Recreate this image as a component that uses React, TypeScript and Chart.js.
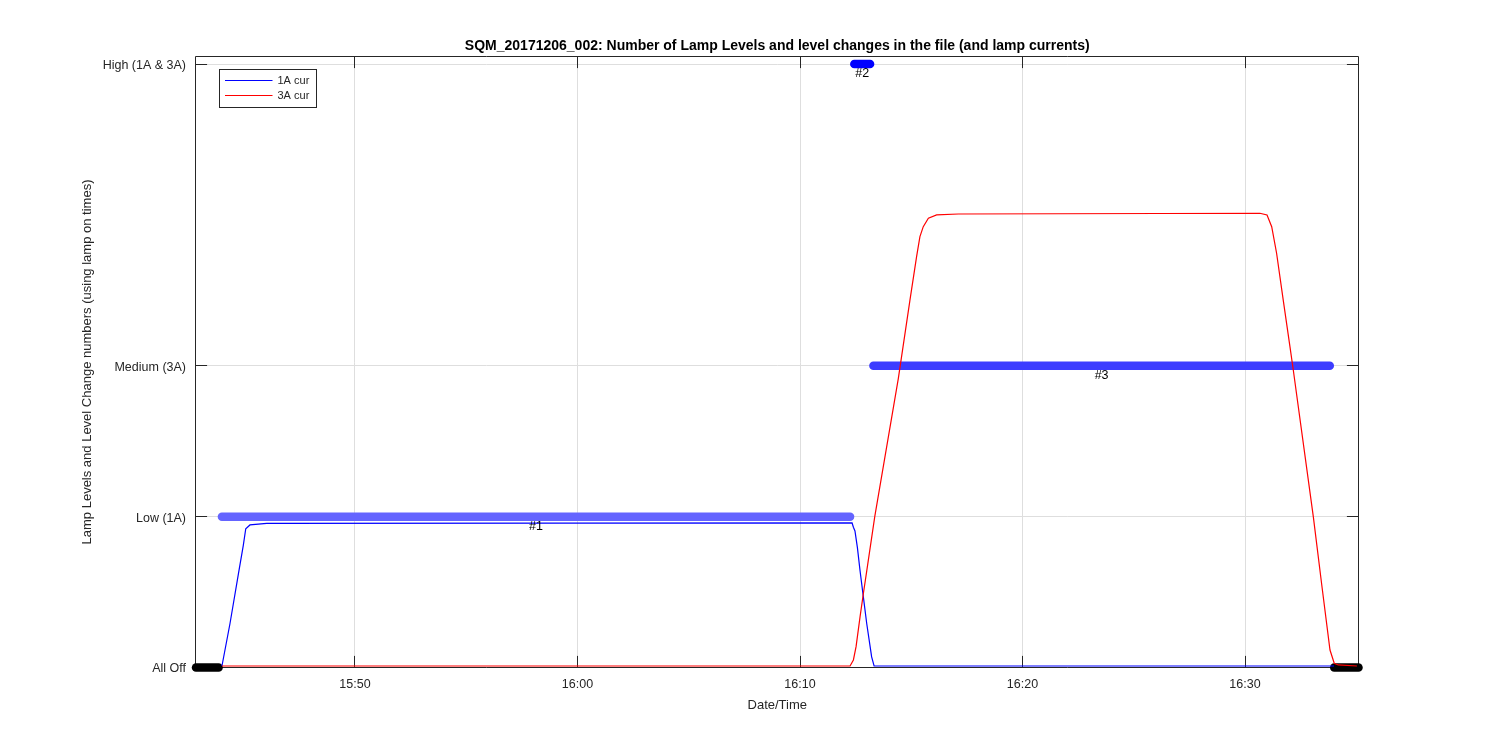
import React, { useEffect, useRef } from 'react';
import { Chart, registerables } from 'chart.js';

Chart.register(...registerables);

const chartTitle = 'SQM_20171206_002: Number of Lamp Levels and level changes in the file (and lamp currents)';
const xAxisTitle = 'Date/Time';
const yAxisTitle = 'Lamp Levels and Level Change numbers (using lamp on times)';

// time axis: minutes after 15:00
const timeMin = 42.854;
const timeMax = 95.101;
const timeTickValues = [50, 60, 70, 80, 90];
const timeTickLabels = ['15:50', '16:00', '16:10', '16:20', '16:30'];

const levelMin = 0;
const levelMax = 4.05;
const levelTickValues = [0, 1, 2, 4];
const levelTickLabels = ['All Off', 'Low (1A)', 'Medium (3A)', 'High (1A & 3A)'];

// lamp level runs (markers)
const segmentStart = [42.854, 44.02, 72.44, 73.3, 94.01];
const segmentEnd = [43.87, 72.25, 73.15, 93.81, 95.101];
const segmentLevel = [0, 1, 4, 2, 0];
const segmentLabel = ['', '#1', '#2', '#3', ''];

// lamp currents
const legendLabels = ['1A cur', '3A cur'];
const cur1ATimes = [44.02, 44.38, 44.76, 44.98, 45.09, 45.28, 46.03, 72.34, 72.4, 72.47, 72.58, 72.7, 72.85, 73.0, 73.22, 73.33, 94.0];
const cur1AValues = [0.01, 0.29, 0.62, 0.81, 0.92, 0.945, 0.955, 0.958, 0.93, 0.905, 0.795, 0.64, 0.465, 0.29, 0.07, 0.01, 0.01];
const cur3ATimes = [44.02, 72.25, 72.4, 72.52, 72.7, 72.85, 73.0, 73.36, 74.42, 74.94, 75.24, 75.39, 75.54, 75.77, 76.14, 77.12, 90.67, 90.99, 91.2, 91.42, 91.72, 92.02, 92.17, 93.07, 93.45, 93.82, 94.01, 94.19, 95.03];
const cur3AValues = [0.01, 0.01, 0.05, 0.138, 0.337, 0.492, 0.64, 1.0, 1.917, 2.434, 2.723, 2.856, 2.922, 2.978, 3.0, 3.006, 3.011, 3.0, 2.922, 2.746, 2.434, 2.127, 1.972, 1.0, 0.547, 0.116, 0.028, 0.017, 0.01];

const FONT = '"Liberation Sans", Arial, Helvetica, sans-serif';
const AXIS_COLOR = '#262626';
const segmentColors = ['#000000', '#6464ff', '#0000ff', '#3c3cff', '#000000'];
const curveColors = ['#0000ff', '#ff0000'];

const alignPx = (p: number) => Math.round(p + 0.5) - 0.5;

const overlayPlugin = {
  id: 'matlabOverlay',
  beforeDatasetsDraw(chart: any) {
    const { ctx, chartArea, scales } = chart;
    const L = Math.floor(chartArea.left) - 0.5;
    const R = chartArea.right;
    const T = chartArea.top;
    const B = chartArea.bottom;
    const tl = 11.6;
    ctx.save();
    ctx.strokeStyle = AXIS_COLOR;
    ctx.lineWidth = 1;
    ctx.beginPath();
    ctx.rect(L, T, R - L, B - T);
    levelTickValues.forEach((v) => {
      const y = alignPx(scales.y.getPixelForValue(v));
      ctx.moveTo(L, y);
      ctx.lineTo(L + tl, y);
      ctx.moveTo(R, y);
      ctx.lineTo(R - tl, y);
    });
    timeTickValues.forEach((v) => {
      const x = alignPx(scales.x.getPixelForValue(v));
      ctx.moveTo(x, B);
      ctx.lineTo(x, B - tl);
      ctx.moveTo(x, T);
      ctx.lineTo(x, T + tl);
    });
    ctx.stroke();
    ctx.restore();
  },
  afterDatasetsDraw(chart: any) {
    const { ctx, chartArea, scales } = chart;
    ctx.save();
    // level change labels
    ctx.fillStyle = '#000000';
    ctx.font = `12.5px ${FONT}`;
    ctx.textAlign = 'center';
    ctx.textBaseline = 'middle';
    segmentLabel.forEach((lab, i) => {
      if (!lab) return;
      const x = scales.x.getPixelForValue((segmentStart[i] + segmentEnd[i]) / 2);
      const y = scales.y.getPixelForValue(segmentLevel[i]) + 10;
      ctx.fillText(lab, x, y);
    });

    // legend
    const bx = Math.floor(chartArea.left) + 23.5;
    const by = Math.floor(chartArea.top) + 13.5;
    ctx.fillStyle = '#ffffff';
    ctx.fillRect(bx, by, 97, 38);
    ctx.strokeStyle = AXIS_COLOR;
    ctx.lineWidth = 1;
    ctx.strokeRect(bx, by, 97, 38);
    ctx.font = `11px ${FONT}`;
    ctx.textAlign = 'left';
    ctx.textBaseline = 'middle';
    legendLabels.forEach((lab, i) => {
      const y = by + 11 + i * 15;
      ctx.strokeStyle = curveColors[i];
      ctx.beginPath();
      ctx.moveTo(bx + 5.5, y);
      ctx.lineTo(bx + 53, y);
      ctx.stroke();
      ctx.fillStyle = AXIS_COLOR;
      ctx.fillText(lab, bx + 58, y + 0.5);
    });

    // title
    ctx.fillStyle = '#000000';
    ctx.font = `bold 14px ${FONT}`;
    ctx.textAlign = 'center';
    ctx.textBaseline = 'alphabetic';
    ctx.fillText(chartTitle, (chartArea.left + chartArea.right) / 2, 50);
    ctx.restore();
  },
};

export default function App() {
  const canvasRef = useRef<HTMLCanvasElement | null>(null);

  useEffect(() => {
    if (!canvasRef.current) return;
    Chart.defaults.font.family = FONT;
    Chart.defaults.color = AXIS_COLOR;

    const curveData = [
      { times: cur1ATimes, values: cur1AValues },
      { times: cur3ATimes, values: cur3AValues },
    ];

    const curveDatasets = curveData.map((c, i) => ({
      label: legendLabels[i],
      data: c.times.map((t, j) => ({ x: t, y: c.values[j] })),
      borderColor: curveColors[i],
      backgroundColor: curveColors[i],
      borderWidth: 1.2,
      pointRadius: 0,
      tension: 0,
      fill: false,
      clip: false,
      order: i === 1 ? 0 : 1,
    }));

    const segmentDatasets = segmentStart.map((s, i) => ({
      label: 'level ' + i,
      data: [
        { x: s, y: segmentLevel[i] },
        { x: segmentEnd[i], y: segmentLevel[i] },
      ],
      borderColor: segmentColors[i],
      backgroundColor: segmentColors[i],
      borderWidth: 8.5,
      borderCapStyle: 'round',
      pointRadius: 0,
      fill: false,
      clip: false,
      order: 2,
    }));

    const chart = new Chart(canvasRef.current, {
      type: 'line',
      data: { datasets: [...curveDatasets, ...segmentDatasets] as any },
      options: {
        responsive: false,
        animation: false,
        devicePixelRatio: 1,
        layout: { padding: { left: 0, right: 141.5, top: 56.5, bottom: 0 } },
        plugins: {
          legend: { display: false },
          tooltip: { enabled: false },
          title: { display: false },
        },
        scales: {
          x: {
            type: 'linear',
            min: timeMin,
            max: timeMax,
            afterBuildTicks: (scale: any) => {
              scale.ticks = timeTickValues.map((v) => ({ value: v }));
            },
            afterFit: (scale: any) => {
              scale.height = 82.5;
            },
            ticks: {
              autoSkip: false,
              maxRotation: 0,
              padding: 10,
              font: { size: 12.5 },
              color: AXIS_COLOR,
              callback: (v: any) => timeTickLabels[timeTickValues.indexOf(Number(v))] ?? '',
            },
            grid: { color: '#dedede', lineWidth: 1, drawTicks: false },
            border: { display: false },
            title: {
              display: true,
              text: xAxisTitle,
              font: { size: 13 },
              color: AXIS_COLOR,
              padding: { top: 0, bottom: 37 },
            },
          },
          y: {
            type: 'linear',
            min: levelMin,
            max: levelMax,
            afterBuildTicks: (scale: any) => {
              scale.ticks = levelTickValues.map((v) => ({ value: v }));
            },
            afterFit: (scale: any) => {
              scale.width = 196;
            },
            ticks: {
              autoSkip: false,
              padding: 10,
              labelOffset: 1.5,
              font: { size: 12.5 },
              color: AXIS_COLOR,
              callback: (v: any) => levelTickLabels[levelTickValues.indexOf(Number(v))] ?? '',
            },
            grid: { color: '#dedede', lineWidth: 1, drawTicks: false },
            border: { display: false },
            title: {
              display: true,
              text: yAxisTitle,
              font: { size: 13 },
              color: AXIS_COLOR,
              padding: { top: 80, bottom: 0 },
            },
          },
        },
      } as any,
      plugins: [overlayPlugin],
    });

    return () => {
      chart.destroy();
    };
  }, []);

  return (
    <div style={{ position: 'absolute', left: 0, top: 0, width: 1500, height: 750, background: '#ffffff' }}>
      <canvas ref={canvasRef} width={1500} height={750} />
    </div>
  );
}
